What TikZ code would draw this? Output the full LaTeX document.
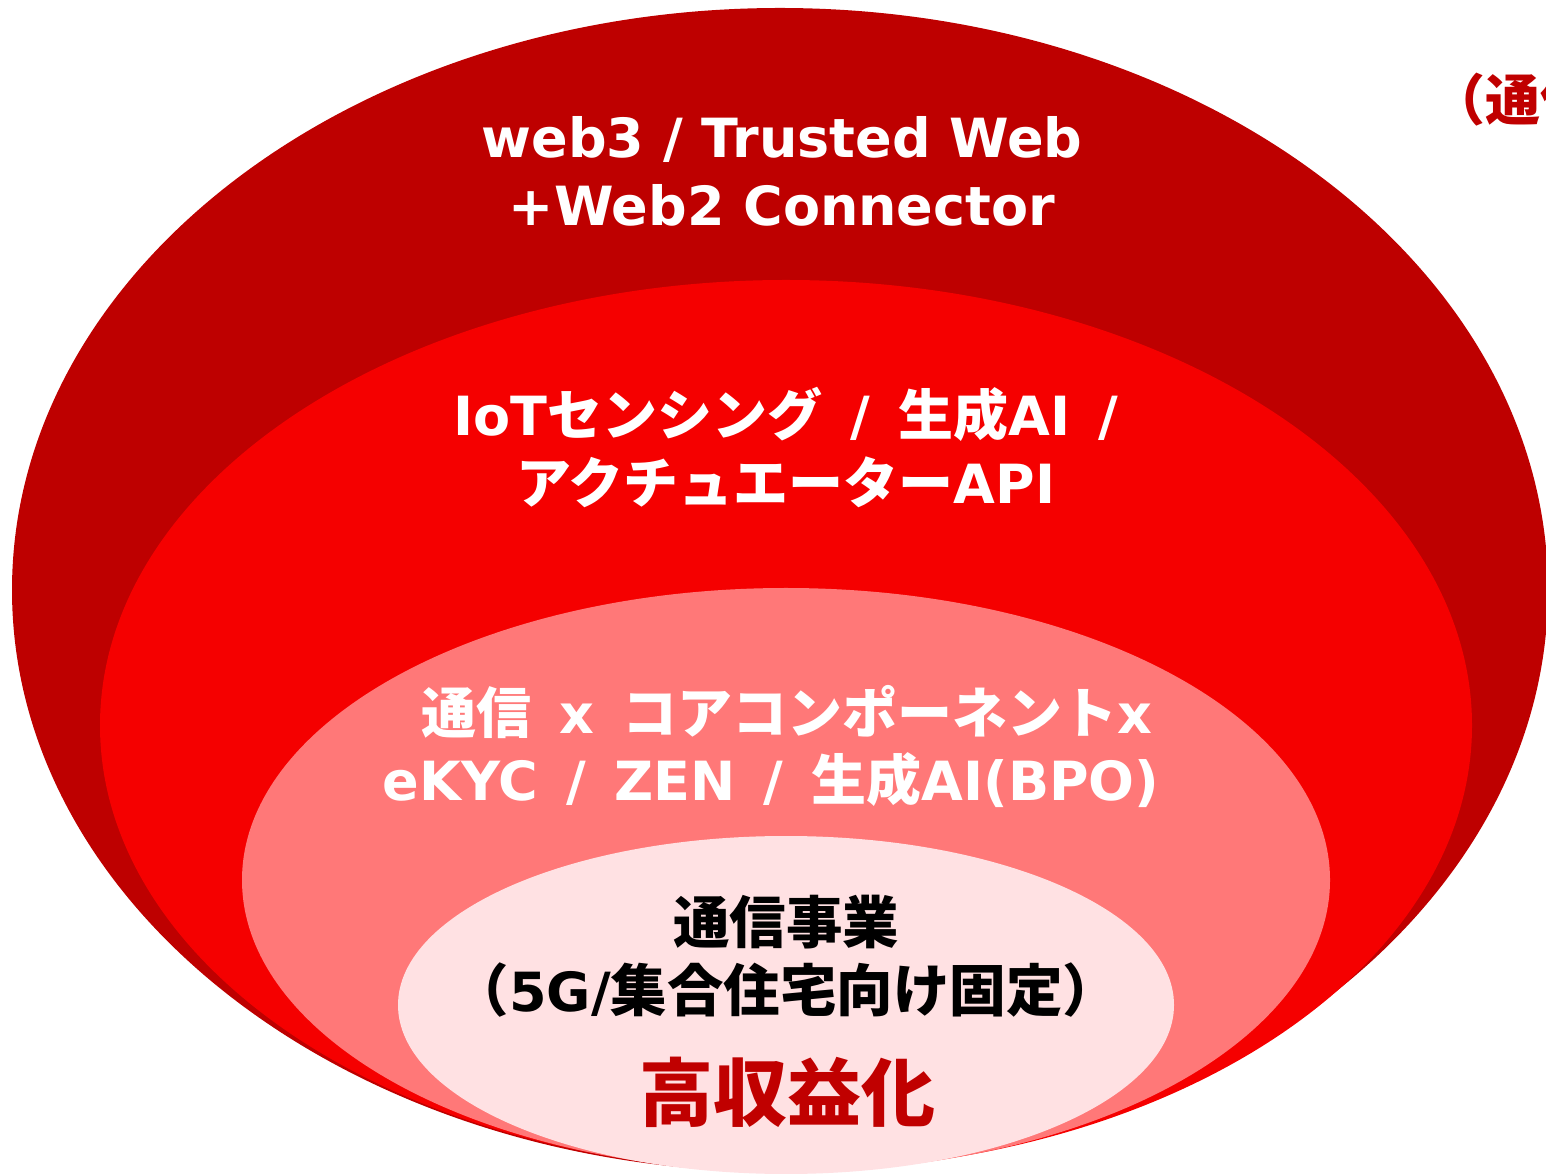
\documentclass[tikz,border=0pt]{standalone}
\usepackage{fontspec}
\setmainfont{DejaVu Sans}
\newfontfamily\mixf{DejaVu Sans}[WordSpace=1.5]
\newfontfamily\jpf{Noto Sans CJK JP}
\newcommand{\J}[1]{{\jpf\fontsize{55}{68}\selectfont #1}}
\newcommand{\JB}[1]{{\jpf\fontsize{56.5}{68}\selectfont #1}}
\definecolor{outerred}{RGB}{190,0,0}
\definecolor{midred}{RGB}{245,0,0}
\definecolor{salmon}{RGB}{255,120,120}
\definecolor{palepink}{RGB}{255,225,227}
\definecolor{textred}{RGB}{192,0,0}
\tikzset{
  lbl/.style={align=center, inner sep=0pt, text=white},
  latinfont/.style={font=\bfseries\fontsize{54}{68}\selectfont},
  mixfont/.style={font=\mixf\bfseries\fontsize{54}{68}\selectfont},
}
\begin{document}
\begin{tikzpicture}[x=1pt,y=1pt]
\useasboundingbox (0,0) rectangle (1546,1173);
\begin{scope}
\clip (0,0) rectangle (1546,1173);
\fill[outerred] (780,583) ellipse [x radius=768pt, y radius=582pt];
\fill[midred] (786,447.5) ellipse [x radius=686pt, y radius=445.5pt];
\fill[salmon] (786,293) ellipse [x radius=544pt, y radius=292pt];
\fill[palepink] (786,168) ellipse [x radius=388pt, y radius=169pt];

\node[lbl, latinfont] (web) at (782,1002) {web3 / Trusted Web\\+Web2 Connector};
\node[lbl, mixfont] (iot) at (786,725) {IoT\J{センシング} / \J{生成}AI /\\\J{アクチュエーター}API};
\node[lbl, mixfont] (core1) at (787,461) {\J{通信} x \J{コアコンポーネント}x};
\node[lbl, mixfont] (core2) at (771,393) {eKYC / ZEN / \J{生成}AI(BPO)};
\node[lbl, mixfont, text=black] (biz) at (786,217) {\JB{通信事業}\\\JB{（}5G/\JB{集合住宅向け固定）}};
\node[lbl, font=\jpf\bfseries\fontsize{74}{80}\selectfont, text=textred] (profit) at (787,81) {高収益化};
\node[lbl, font=\jpf\bfseries\fontsize{55}{68}\selectfont, text=textred, anchor=west] (side) at (1430,1073) {（通信};
\end{scope}
\end{tikzpicture}
\end{document}
